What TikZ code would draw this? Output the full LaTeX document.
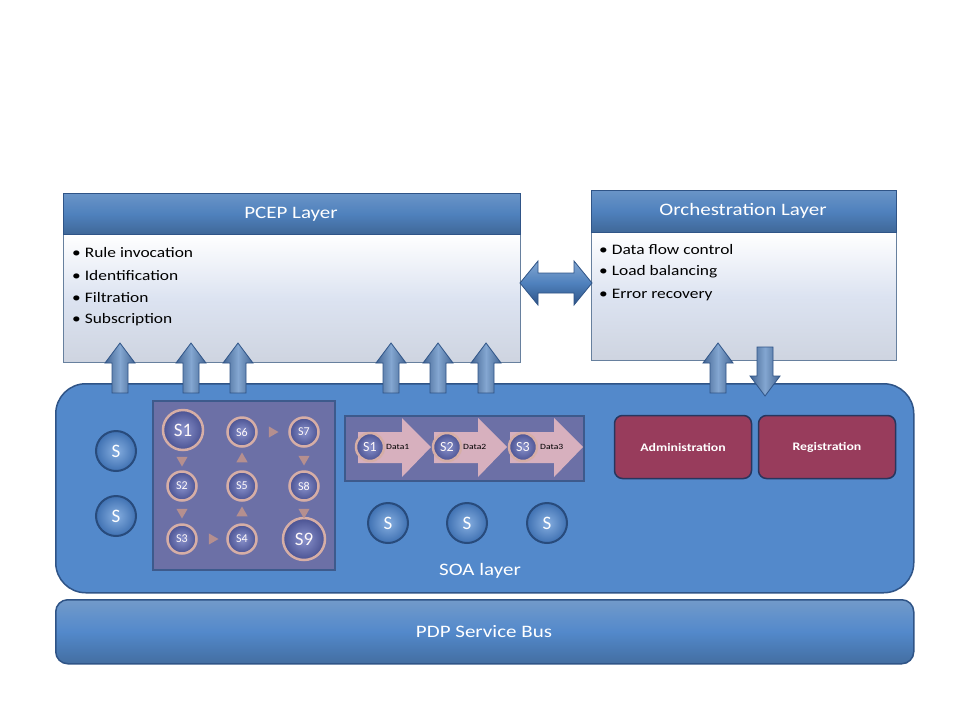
\documentclass[tikz,border=0pt]{standalone}
\usepackage{fontspec}
\setmainfont{Carlito}
\usetikzlibrary{shapes.geometric,calc}
\definecolor{bmain}{HTML}{4F81BD}
\definecolor{bdark}{HTML}{2F5487}
\definecolor{soafill}{HTML}{5389CB}
\definecolor{bodyfill}{HTML}{DCE3F1}
\definecolor{purp}{HTML}{6C70A6}
\definecolor{purpedge}{HTML}{3D5A8C}
\definecolor{admin}{HTML}{983C5C}
\definecolor{adminedge}{HTML}{27365E}
\definecolor{pinkarr}{HTML}{D7B0BE}
\definecolor{ring}{HTML}{D6AEA6}
\definecolor{tri}{HTML}{B58F8F}
\definecolor{ballin}{HTML}{86AEE0}
\definecolor{ballout}{HTML}{3F71B2}
\definecolor{ballrim}{HTML}{284B7C}
\definecolor{gin}{HTML}{8A92CC}
\definecolor{gout}{HTML}{4A5292}
\begin{document}
\begin{tikzpicture}[x=1pt,y=-1pt,
  header/.style={draw=bdark,line width=1pt,top color=bmain!85!white,bottom color=bmain!80!black,middle color=bmain,anchor=north west,inner sep=0pt},
  bodybox/.style={draw=bmain!50!gray,line width=1pt,top color=white,bottom color=bodyfill!85!gray,middle color=bodyfill,anchor=north west,inner sep=0pt},
  wide/.style={xscale=1.2,transform shape},
  htext/.style={wide,text=white,font=\fontsize{17.5}{20}\selectfont},
  btext/.style={wide,text=black,font=\fontsize{14.5}{16}\selectfont,anchor=west,inner sep=0pt},
  soabox/.style={draw=bdark,line width=1.5pt,fill=soafill,rounded corners=30pt,anchor=north west,inner sep=0pt},
  busbox/.style={draw=bdark,line width=1.5pt,top color=bmain!80!white,bottom color=bmain!85!black,middle color=soafill,rounded corners=12pt,anchor=north west,inner sep=0pt},
  sball/.style={circle,minimum size=40pt,inner sep=0pt,draw=ballrim,line width=2pt,inner color=ballin,outer color=ballout,text=white,font=\fontsize{19}{20}\selectfont},
  gball/.style={circle,inner sep=0pt,draw=ring,line width=2.5pt,inner color=gin,outer color=gout,text=white!90!pink,font=\fontsize{#1}{#1}\selectfont},
  gtri/.style={regular polygon,regular polygon sides=3,minimum size=13pt,inner sep=0pt,fill=tri,shape border rotate=#1},
  purpbox/.style={draw=purpedge,line width=2.2pt,fill=purp,anchor=north west,inner sep=0pt},
  adminbox/.style={draw=adminedge,line width=1.5pt,fill=admin,rounded corners=8pt,minimum width=137pt,minimum height=63pt,inner sep=0pt},
  admintext/.style={wide,text=white,font=\bfseries\fontsize{11.5}{14}\selectfont},
  blockarr/.style={draw=bdark,line width=0.8pt,left color=bdark!90!white,right color=bdark!90!white,middle color=bmain!70!white},
  pinkarrow/.style={fill=pinkarr},
  dlabel/.style={wide,font=\fontsize{8}{9}\selectfont,text=black,anchor=west,inner sep=0pt}
]
\useasboundingbox[fill=white] (0,0) rectangle (960,720);

% bus and SOA layer
\node[busbox,minimum width=858pt,minimum height=64pt] (bus) at (55,599) {};
\node[htext] (buslbl) at (484,632) {PDP Service Bus};
\node[soabox,minimum width=858pt,minimum height=209pt] (soa) at (55,383) {};
\node[htext] (soalbl) at (480,571) {SOA layer};

% PCEP layer
\node[bodybox,minimum width=457pt,minimum height=128pt] (pcepbody) at (63,234) {};
\node[header,minimum width=457pt,minimum height=41pt] (pcephead) at (63,193) {};
\node[htext] (pceplbl) at (291,214) {PCEP Layer};
\node[btext] (p1) at (72,253) {• Rule invocation};
\node[btext] (p2) at (72,276) {• Identification};
\node[btext] (p3) at (72,298) {• Filtration};
\node[btext] (p4) at (72,320) {• Subscription};

% Orchestration layer
\node[bodybox,minimum width=305pt,minimum height=128pt] (orchbody) at (591,232) {};
\node[header,minimum width=305pt,minimum height=42pt] (orchhead) at (591,190) {};
\node[htext] (orchlbl) at (743,211) {Orchestration Layer};
\node[btext] (o1) at (599,250) {• Data flow control};
\node[btext] (o2) at (599,272) {• Load balancing};
\node[btext] (o3) at (599,295) {• Error recovery};

% double arrow between layers
\draw[blockarr,top color=bmain!70!white,bottom color=bdark,middle color=bmain] (520,283) -- (538,261) -- (538,273) -- (574,273) -- (574,261) -- (592,283) -- (574,305) -- (574,293) -- (538,293) -- (538,305) -- cycle;

% up arrows into PCEP
\foreach \c in {120,191,238,391,438,486}{
  \draw[blockarr] (\c-8,393) -- (\c-8,363) -- (\c-15,363) -- (\c,343) -- (\c+15,363) -- (\c+8,363) -- (\c+8,393) -- cycle;
}
% orchestration arrows
\draw[blockarr] (710,393) -- (710,363) -- (703,363) -- (718,343) -- (733,363) -- (726,363) -- (726,393) -- cycle;
\draw[blockarr] (757,347) -- (757,376) -- (750,376) -- (765,396) -- (780,376) -- (773,376) -- (773,347) -- cycle;

% standalone services
\node[sball] (sa) at (116,451) {S};
\node[sball] (sb) at (116,516) {S};
\node[sball] (sc) at (388,523) {S};
\node[sball] (sd) at (467,523) {S};
\node[sball] (se) at (547,523) {S};

% composition grid
\node[purpbox,minimum width=182pt,minimum height=169pt] (grid) at (152,400) {};
\node[gball=19,minimum size=40pt] (g1) at (183,430) {S1};
\node[gball=12,minimum size=29pt] (g2) at (182,486) {S2};
\node[gball=12,minimum size=29pt] (g3) at (182,539) {S3};
\node[gball=12,minimum size=29pt] (g4) at (242,539) {S4};
\node[gball=12,minimum size=29pt] (g5) at (242,486) {S5};
\node[gball=12,minimum size=29pt] (g6) at (242,432) {S6};
\node[gball=12,minimum size=29pt] (g7) at (304,432) {S7};
\node[gball=12,minimum size=29pt] (g8) at (304,486) {S8};
\node[gball=19,minimum size=42pt] (g9) at (304,539) {S9};
\node[gtri=180] (t12) at (182,460) {};
\node[gtri=180] (t23) at (182,512) {};
\node[gtri=-90] (t34) at (212,539) {};
\node[gtri=0] (t45) at (242,513) {};
\node[gtri=0] (t56) at (242,459) {};
\node[gtri=-90] (t67) at (272,432) {};
\node[gtri=180] (t78) at (304,459) {};
\node[gtri=180] (t89) at (304,512) {};

% sequence box
\node[purpbox,minimum width=239pt,minimum height=65pt] (seq) at (344,415) {};
\foreach \a in {0,76,152}{
  \fill[pinkarrow] (358+\a,432) -- (402+\a,432) -- (402+\a,418) -- (431+\a,447) -- (402+\a,477) -- (402+\a,463) -- (358+\a,463) -- cycle;
}
\node[gball=14,minimum size=28pt] (q1) at (370,447) {S1};
\node[gball=14,minimum size=28pt] (q2) at (447,447) {S2};
\node[gball=14,minimum size=28pt] (q3) at (523,447) {S3};
\node[dlabel] (d1) at (386,447) {Data1};
\node[dlabel] (d2) at (463,447) {Data2};
\node[dlabel] (d3) at (540,447) {Data3};

% admin boxes
\node[adminbox] (adm) at (683,447) {};
\node[admintext] (admlbl) at (683,447) {Administration};
\node[adminbox] (reg) at (827,447) {};
\node[admintext] (reglbl) at (827,447) {Registration};
\end{tikzpicture}
\end{document}
